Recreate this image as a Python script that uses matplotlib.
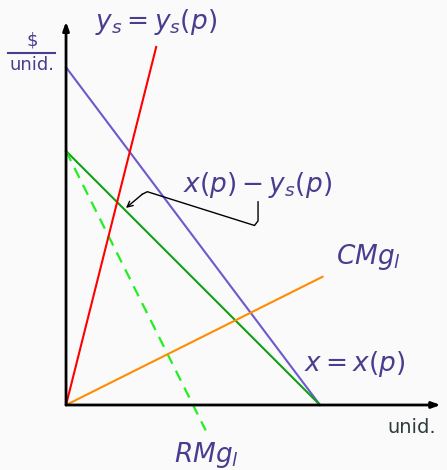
import matplotlib
matplotlib.use("Agg")
import matplotlib.pyplot as plt

plt.rcParams['mathtext.fontset'] = 'dejavusans'

# demand / supply curves (quantity, price)
demand_x = [0, 10]
demand_p = [13.3, 0]
net_x = [0, 10]
net_p = [10, 0]
rmg_x = [0, 5.5]
rmg_p = [10, -1.0]
supply_x = [0, 3.55]
supply_p = [0, 14.1]
cmg_x = [0, 10.1]
cmg_p = [0, 5.05]

# annotation path for x(p) - ys(p)
note_x = [7.56, 7.56, 7.42, 3.2, 3.0]
note_p = [8.0, 7.25, 7.07, 8.4, 8.3]

txt = '#4a3d8f'

fig = plt.figure(figsize=(4.47, 4.70), dpi=100)
fig.patch.set_facecolor('#fafafa')
ax = fig.add_axes([0, 0, 1, 1])
ax.set_facecolor('#fafafa')
ax.set_xlim(-2.6, 15.0)
ax.set_ylim(-2.56, 15.95)
ax.axis('off')

# axes with arrows
ax.annotate('', xy=(14.75, 0), xytext=(0, 0),
            arrowprops=dict(arrowstyle='-|>,head_length=0.5,head_width=0.18',
                            color='black', lw=2.0, shrinkA=0, shrinkB=0))
ax.annotate('', xy=(0, 15.1), xytext=(0, 0),
            arrowprops=dict(arrowstyle='-|>,head_length=0.5,head_width=0.18',
                            color='black', lw=2.0, shrinkA=0, shrinkB=0))

ax.plot(demand_x, demand_p, color='#6a5acd', lw=1.5)
ax.plot(net_x, net_p, color='#11a011', lw=1.5)
ax.plot(rmg_x, rmg_p, color='#22ee22', lw=1.6, ls=(0, (5, 3.5)))
ax.plot(supply_x, supply_p, color='#ff0000', lw=1.5)
ax.plot(cmg_x, cmg_p, color='#ff8c00', lw=1.5)

ax.plot(note_x, note_p, color='black', lw=1.0, solid_joinstyle='round')
ax.annotate('', xy=(2.36, 7.76), xytext=(note_x[-1], note_p[-1]),
            arrowprops=dict(arrowstyle='->', color='black', lw=1.0,
                            shrinkA=0, shrinkB=0))

ax.text(3.54, 15.08, r'$y_s = y_s(p)$', color=txt, fontsize=19,
        ha='center', va='center')
ax.text(7.52, 8.66, r'$x(p) - y_s(p)$', color=txt, fontsize=19,
        ha='center', va='center')
ax.text(11.89, 5.83, r'$CMg_l$', color=txt, fontsize=19,
        ha='center', va='center')
ax.text(11.38, 1.61, r'$x = x(p)$', color=txt, fontsize=19,
        ha='center', va='center')
ax.text(5.51, -1.97, r'$RMg_l$', color=txt, fontsize=19,
        ha='center', va='center')
ax.text(13.62, -0.9, 'unid.', color='#2f3b3b', fontsize=14,
        ha='center', va='center')

# $ / unid. fraction on the price axis
ax.text(-1.34, 14.37, '$', color=txt, fontsize=13, ha='center', va='center')
ax.plot([-2.28, -0.43], [13.88, 13.88], color=txt, lw=1.5)
ax.text(-1.34, 13.4, 'unid.', color=txt, fontsize=13, ha='center', va='center')

fig.savefig('out.png', dpi=100, facecolor=fig.get_facecolor())
